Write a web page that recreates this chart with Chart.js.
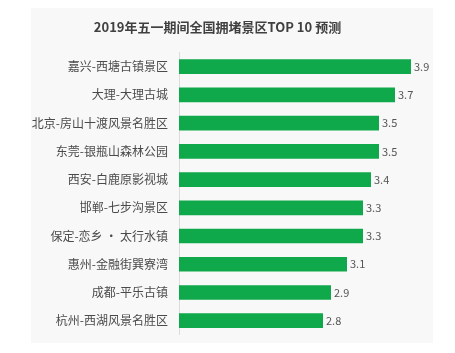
<!DOCTYPE html>
<html>
<head>
<meta charset="utf-8">
<script src="https://cdn.jsdelivr.net/npm/chart.js@4/dist/chart.umd.min.js"></script>
<style>
  html, body { margin: 0; padding: 0; background: #fff; }
  #wrap { width: 455px; height: 353px; position: relative; }
</style>
</head>
<body>
<div id="wrap"><canvas id="chart"></canvas></div>
<script>
// scenic spots, top to bottom
const spots = [
  '嘉兴-西塘古镇景区',
  '大理-大理古城',
  '北京-房山十渡风景名胜区',
  '东莞-银瓶山森林公园',
  '西安-白鹿原影视城',
  '邯郸-七步沟景区',
  '保定-恋乡 · 太行水镇',
  '惠州-金融街巽寮湾',
  '成都-平乐古镇',
  '杭州-西湖风景名胜区',
];
const congestion = [3.9, 3.7, 3.5, 3.5, 3.4, 3.3, 3.3, 3.1, 2.9, 2.8];

const FONT = "'Noto Sans CJK SC', 'Noto Sans', sans-serif";
const GREEN = '#0fa84a';

// light grey card behind the chart
const panelBg = {
  id: 'panelBg',
  beforeDraw(chart) {
    const c = chart.ctx;
    c.save();
    c.fillStyle = '#ffffff';
    c.fillRect(0, 0, chart.width, chart.height);
    c.fillStyle = '#f8f8f8';
    c.fillRect(31, 8, 402, 335);
    c.restore();
  },
};

// value text at the end of each bar
const valueLabels = {
  id: 'valueLabels',
  afterDatasetsDraw(chart) {
    const c = chart.ctx;
    const meta = chart.getDatasetMeta(0);
    c.save();
    c.font = '11px ' + FONT;
    c.fillStyle = '#555';
    c.textAlign = 'left';
    c.textBaseline = 'middle';
    meta.data.forEach((bar, i) => {
      c.fillText(congestion[i].toFixed(1), bar.x + 3, bar.y);
    });
    c.restore();
  },
};

new Chart(document.getElementById('chart'), {
  type: 'bar',
  data: {
    labels: spots,
    datasets: [{
      data: congestion,
      backgroundColor: GREEN,
      borderWidth: 0,
      barPercentage: 0.52,
      categoryPercentage: 1,
    }],
  },
  plugins: [panelBg, valueLabels],
  options: {
    indexAxis: 'y',
    responsive: true,
    maintainAspectRatio: false,
    animation: false,
    layout: { padding: { left: 0, right: 20, top: 0, bottom: 9.5 } },
    plugins: {
      legend: { display: false },
      tooltip: { enabled: false },
      title: {
        display: true,
        text: '2019年五一期间全国拥堵景区TOP 10 预测',
        color: '#404040',
        font: { family: FONT, size: 13, weight: 'bold' },
        padding: { top: 19, bottom: 18 },
      },
    },
    scales: {
      x: {
        display: false,
        min: 1,
        max: 4.2,
      },
      y: {
        grid: { display: false, drawTicks: false },
        border: { display: true, color: '#dcdcdc', width: 1 },
        ticks: {
          color: '#4a4a4a',
          padding: 11,
          font: { family: FONT, size: 12 },
        },
        afterFit(scale) { scale.width = 179; },
      },
    },
  },
});
</script>
</body>
</html>
